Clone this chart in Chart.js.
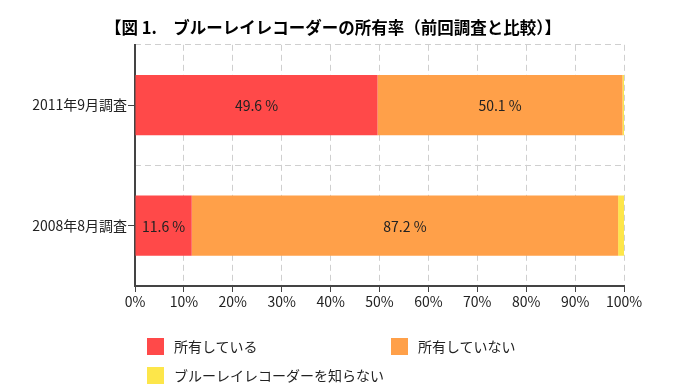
<!DOCTYPE html>
<html lang="ja">
<head>
<meta charset="utf-8">
<script src="https://cdn.jsdelivr.net/npm/chart.js@4/dist/chart.umd.min.js"></script>
<style>
  html, body { margin: 0; padding: 0; background: #fff; }
  #wrap { position: relative; width: 684px; height: 392px; }
  #c { position: absolute; left: 0; top: 0; }
  .lg { position: absolute; font: 14px "Noto Sans CJK JP", sans-serif; color: #222; white-space: nowrap; }
  .lg span.box { position: absolute; left: 0; top: 1px; width: 17px; height: 17px; }
  .lg span.txt { position: absolute; left: 27px; top: 0; line-height: 19px; }
</style>
</head>
<body>
<div id="wrap">
  <canvas id="c" width="684" height="392"></canvas>
</div>
<script>
const titleText = "【図 1.　ブルーレイレコーダーの所有率（前回調査と比較）】";
const categories = ["2011年9月調査", "2008年8月調査"];
const seriesNames = ["所有している", "所有していない", "ブルーレイレコーダーを知らない"];
const seriesColors = ["#ff4949", "#ffa049", "#fde64a"];
const owned = [49.6, 11.6];
const notOwned = [50.1, 87.2];
const unknown = [0.3, 1.2];
const xTicks = [0, 10, 20, 30, 40, 50, 60, 70, 80, 90, 100];

const FONT = '"Noto Sans CJK JP", "Noto Sans", sans-serif';
const seriesValues = [owned, notOwned, unknown];

const labelPlugin = {
  id: 'segLabels',
  afterDatasetsDraw(chart) {
    const ctx = chart.ctx;
    ctx.save();
    ctx.font = '14px ' + FONT;
    ctx.fillStyle = '#222';
    ctx.textAlign = 'center';
    ctx.textBaseline = 'middle';
    chart.data.datasets.forEach((ds, di) => {
      if (di > 1) return;
      const meta = chart.getDatasetMeta(di);
      meta.data.forEach((el, i) => {
        const v = ds.data[i];
        if (v < 5) return;
        const p = el.getCenterPoint();
        ctx.fillText(v.toFixed(1) + ' %', p.x, p.y + 1);
      });
    });
    ctx.restore();
  }
};

new Chart(document.getElementById('c'), {
  type: 'bar',
  data: {
    labels: categories,
    datasets: seriesNames.map((n, i) => ({
      label: n,
      data: seriesValues[i],
      backgroundColor: seriesColors[i],
      borderWidth: 0,
      categoryPercentage: 1,
      barPercentage: 0.5
    }))
  },
  options: {
    indexAxis: 'y',
    responsive: false,
    animation: false,
    layout: { padding: { left: 0, right: 18, top: 0, bottom: 80 } },
    plugins: {
      legend: { display: false },
      tooltip: { enabled: false },
      title: {
        display: true,
        text: titleText,
        color: '#000',
        font: { family: FONT, size: 16.5, weight: 'bold' },
        padding: { top: 18, bottom: 7 }
      }
    },
    scales: {
      x: {
        stacked: true,
        min: 0, max: 100,
        afterBuildTicks(scale) { scale.ticks = xTicks.map(v => ({ value: v })); },
        afterFit(scale) { scale.height = 26; },
        ticks: {
          callback: v => v + '%',
          color: '#222',
          font: { family: FONT, size: 14 },
          padding: 1,
          maxRotation: 0,
          autoSkip: false
        },
        grid: {
          color: '#cfcfcf',
          tickColor: '#444',
          tickLength: 6,
          tickWidth: 1,
          tickBorderDash: []
        },
        border: { display: true, color: '#444', width: 2, dash: [6, 4] }
      },
      y: {
        stacked: true,
        offset: true,
        afterFit(scale) { scale.width = 135; },
        ticks: {
          color: '#222',
          font: { family: FONT, size: 14 },
          padding: 1
        },
        grid: {
          offset: false,
          drawOnChartArea: false,
          tickColor: '#444',
          tickLength: 7,
          tickWidth: 1
        },
        border: { display: true, color: '#444', width: 2 }
      },
      y2: {
        type: 'category',
        position: 'right',
        offset: true,
        afterFit(scale) { scale.width = 42; },
        ticks: { display: false },
        grid: {
          offset: true,
          drawTicks: false,
          color: '#cfcfcf'
        },
        border: { display: false, dash: [6, 4] }
      }
    }
  },
  plugins: [labelPlugin]
});

// HTML legend built from the series names/colours
const legendPos = [[147, 337], [391, 337], [147, 366]];
const wrap = document.getElementById('wrap');
seriesNames.forEach((n, i) => {
  const d = document.createElement('div');
  d.className = 'lg';
  d.style.left = legendPos[i][0] + 'px';
  d.style.top = legendPos[i][1] + 'px';
  const b = document.createElement('span');
  b.className = 'box';
  b.style.background = seriesColors[i];
  const t = document.createElement('span');
  t.className = 'txt';
  t.textContent = n;
  d.appendChild(b);
  d.appendChild(t);
  wrap.appendChild(d);
});
</script>
</body>
</html>
